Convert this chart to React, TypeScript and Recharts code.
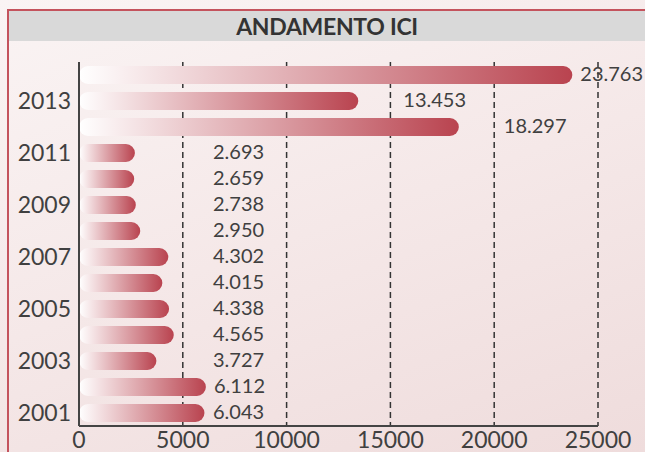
import { BarChart, Bar, XAxis, YAxis, CartesianGrid, LabelList } from 'recharts'

// anni dall'alto verso il basso
const years = ['2014', '2013', '2012', '2011', '2010', '2009', '2008', '2007', '2006', '2005', '2004', '2003', '2002', '2001']
const ici = [23763, 13453, 18297, 2693, 2659, 2738, 2950, 4302, 4015, 4338, 4565, 3727, 6112, 6043]
const xTicks = [0, 5000, 10000, 15000, 20000, 25000]

const data = years.map((y, i) => ({ year: y, ici: ici[i] }))

const fmt = (v: number) => String(v).replace(/\B(?=(\d{3})+(?!\d))/g, '.')

const renderLabel = (props: any) => {
  const { x, y, width, height, value } = props
  const end = x + width
  let lx = Math.max(end + 8, x + 134)
  if (value > 10000 && value < 20000) lx = end + 45
  return (
    <text x={lx} y={y + height / 2 + 1} dominantBaseline="middle" fontSize={20} fill="#404040" fontFamily="Lato">
      {fmt(value)}
    </text>
  )
}

export default function App() {
  return (
    <div style={{
      position: 'absolute', top: 0, left: 0, width: 645, height: 452, overflow: 'hidden',
      background: 'linear-gradient(160deg, #faf4f4 0%, #f5e8e8 50%, #efdcdc 100%)', fontFamily: 'Lato',
    }}>
      <div style={{
        position: 'absolute', left: 7, top: 9, width: 660, height: 460,
        borderLeft: '2px solid #c4535d', borderTop: '2px solid #c4535d',
      }} />
      <div style={{
        position: 'absolute', left: 9, top: 11, width: 636, height: 30, background: '#d9d9d9',
        display: 'flex', alignItems: 'center', justifyContent: 'center',
        fontSize: 23, fontWeight: 700, color: '#333', fontFamily: 'Lato', letterSpacing: -0.3,
      }}>
        ANDAMENTO ICI
      </div>
      <div style={{ position: 'absolute', left: 0, top: 0 }}>
        <BarChart
          width={645}
          height={452}
          data={data}
          layout="vertical"
          margin={{ top: 62, right: 47, left: 9, bottom: 0 }}
          barCategoryGap={8}
        >
          <defs>
            <linearGradient id="barGrad" x1="0" y1="0" x2="1" y2="0">
              <stop offset="0%" stopColor="#ffffff" />
              <stop offset="100%" stopColor="#b9434f" />
            </linearGradient>
          </defs>
          <CartesianGrid horizontal={false} stroke="#333" strokeDasharray="6 4" strokeWidth={1.5} />
          <XAxis
            type="number"
            domain={[0, 25000]}
            ticks={xTicks}
            height={26}
            tickLine={false}
            axisLine={{ stroke: '#444', strokeWidth: 2 }}
            tick={{ fontSize: 23, fill: '#404040', fontFamily: 'Lato' }}
            tickMargin={0}
            interval={0}
          />
          <YAxis
            type="category"
            dataKey="year"
            width={70}
            interval={0}
            tickLine={false}
            axisLine={{ stroke: '#444', strokeWidth: 2 }}
            tick={{ fontSize: 23, fill: '#404040', fontFamily: 'Lato' }}
            tickFormatter={(v: string) => (Number(v) % 2 === 1 ? v : '')}
          />
          <Bar dataKey="ici" fill="url(#barGrad)" radius={9} barSize={18} isAnimationActive={false}>
            <LabelList dataKey="ici" content={renderLabel} />
          </Bar>
        </BarChart>
      </div>
    </div>
  )
}
